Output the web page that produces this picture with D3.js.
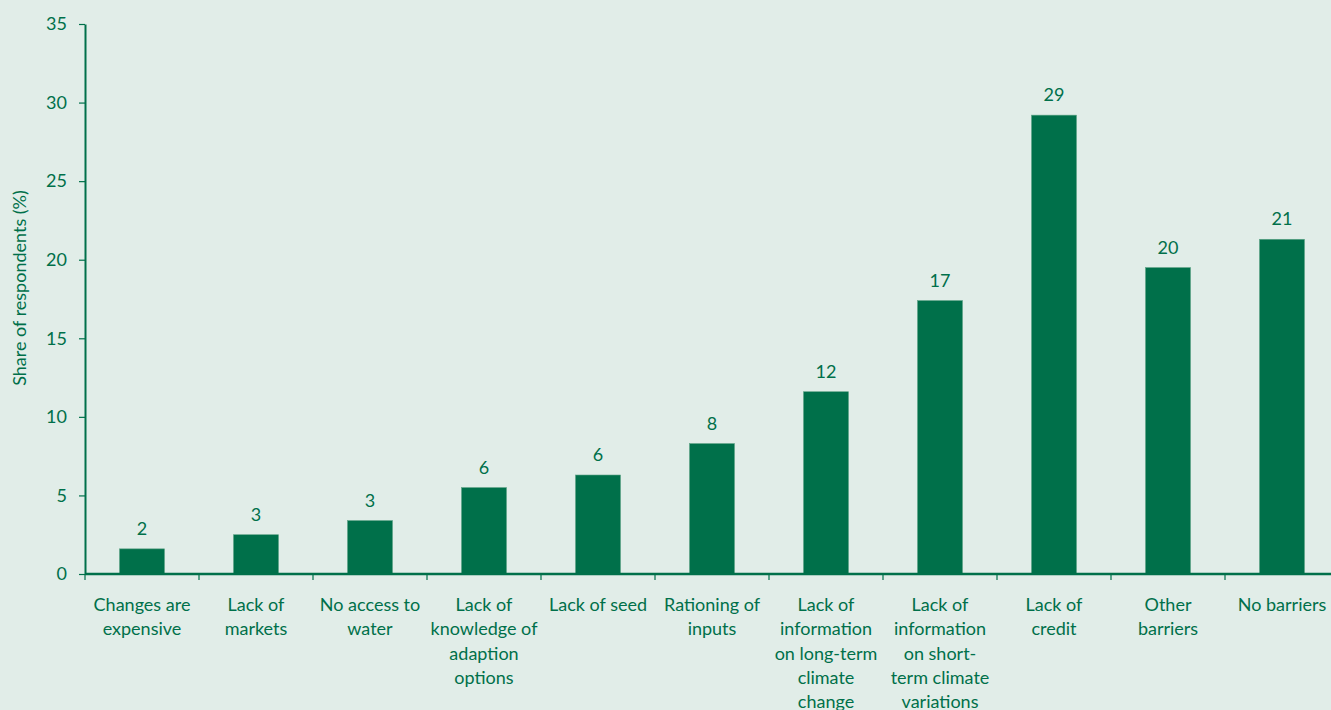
<!DOCTYPE html>
<html>
<head>
<meta charset="utf-8">
<script src="https://cdn.jsdelivr.net/npm/d3@7/dist/d3.min.js"></script>
<style>
  html, body { margin: 0; padding: 0; background: #e1ede8; }
  svg { display: block; }
  text { font-family: Lato, "Open Sans", sans-serif; fill: #00704a; }
</style>
</head>
<body>
<svg id="chart" width="1331" height="710"></svg>
<script>
const categories = [
  ["Changes are", "expensive"],
  ["Lack of", "markets"],
  ["No access to", "water"],
  ["Lack of", "knowledge of", "adaption", "options"],
  ["Lack of seed"],
  ["Rationing of", "inputs"],
  ["Lack of", "information", "on long-term", "climate", "change"],
  ["Lack of", "information", "on short-", "term climate", "variations"],
  ["Lack of", "credit"],
  ["Other", "barriers"],
  ["No barriers"]
];
const values = [1.6, 2.5, 3.4, 5.5, 6.3, 8.3, 11.6, 17.4, 29.2, 19.5, 21.3];
const valueLabels = ["2", "3", "3", "6", "6", "8", "12", "17", "29", "20", "21"];
const yTicks = [0, 5, 10, 15, 20, 25, 30, 35];
const yTitle = "Share of respondents (%)";

const green = "#00704a";
const fs = 18;
const svg = d3.select("#chart");
const ids = categories.map((c, i) => i);

const x = d3.scaleBand().domain(ids).range([85, 1339]).padding(0);
const y = d3.scaleLinear().domain([0, 35]).range([574, 24]);
const barW = x.bandwidth() * 0.395;

// bars
svg.append("g").selectAll("rect").data(values).join("rect")
  .attr("x", (d, i) => x(i) + x.bandwidth() / 2 - barW / 2)
  .attr("y", d => y(d))
  .attr("width", barW)
  .attr("height", d => y(0) - y(d))
  .attr("fill", green)
  .attr("stroke", "#5fa487")
  .attr("stroke-width", 0.6);

// value labels
svg.append("g").selectAll("text").data(values).join("text")
  .attr("x", (d, i) => x(i) + x.bandwidth() / 2)
  .attr("y", d => y(d) - 14)
  .attr("text-anchor", "middle")
  .attr("font-size", fs)
  .text((d, i) => valueLabels[i]);

// y axis
const yAxis = svg.append("g").attr("transform", "translate(85,0)")
  .call(d3.axisLeft(y).tickValues(yTicks).tickSize(6).tickPadding(12).tickSizeOuter(0));
yAxis.select(".domain").attr("stroke", green).attr("stroke-width", 2);
yAxis.selectAll(".tick line").attr("stroke", green).attr("stroke-width", 1.2);
yAxis.selectAll(".tick text").attr("font-size", fs).attr("fill", green)
  .style("font-family", "Lato, 'Open Sans', sans-serif");

// x axis
const boundaries = d3.range(categories.length + 1).map(i => 85 + i * x.step());
const xg = svg.append("g");
xg.append("line").attr("x1", 85).attr("x2", 1339).attr("y1", y(0)).attr("y2", y(0))
  .attr("stroke", green).attr("stroke-width", 2.4);
xg.selectAll("line.tk").data(boundaries).join("line").attr("class", "tk")
  .attr("x1", d => d).attr("x2", d => d)
  .attr("y1", y(0)).attr("y2", y(0) + 6)
  .attr("stroke", green).attr("stroke-width", 1.2);

// x labels
const lab = svg.append("g").selectAll("text").data(categories).join("text")
  .attr("text-anchor", "middle")
  .attr("font-size", fs)
  .attr("transform", (d, i) => `translate(${x(i) + x.bandwidth() / 2},611)`);
lab.selectAll("tspan").data(d => d).join("tspan")
  .attr("x", 0)
  .attr("y", (d, j) => j * 24.3)
  .text(d => d);

// y title
svg.append("text")
  .attr("transform", "translate(26,288) rotate(-90)")
  .attr("text-anchor", "middle")
  .attr("font-size", fs)
  .text(yTitle);
</script>
</body>
</html>
